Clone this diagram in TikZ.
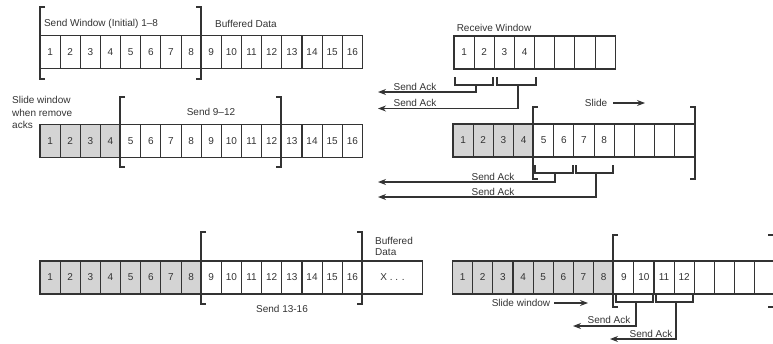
\documentclass[tikz,border=0pt]{standalone}
\usepackage{fontspec}
\setmainfont{Liberation Sans}
\usepackage{xcolor}
\usepackage{tikz}
\usetikzlibrary{arrows.meta}

\definecolor{inkgray}{HTML}{333333}
\definecolor{ackgray}{HTML}{D4D4D4}

\tikzset{
    cell/.style={draw=inkgray, line width=1.1pt, minimum width=20.15pt, minimum height=33pt,
                 inner sep=0pt, outer sep=0pt, text=inkgray, font=\fontsize{10}{12}\selectfont},
    acked/.style={cell, fill=ackgray},
    brak/.style={draw=inkgray, line width=1.1pt},
    ackline/.style={draw=inkgray, line width=1.1pt, -{Stealth[length=8pt,width=6pt]}},
    lbl/.style={inner sep=0pt, text=inkgray, font=\fontsize{10}{12.5}\selectfont},
}

\begin{document}
\begin{tikzpicture}[x=1pt,y=-1pt]
    \useasboundingbox (0,0) rectangle (773,343);
    \clip (0,0) rectangle (773,343);

    % initial send window
    \foreach \i in {1,...,16} {
        \node[cell] (a\i) at (40+20.15*\i-10.075, 52) {\i};
    }
    \draw[brak] (45,7) -- (40,7) -- (40,79) -- (45,79);
    \draw[brak] (196,7) -- (201,7) -- (201,79) -- (196,79);
    \node[lbl] (sendwin) at (101,24) {Send Window (Initial) 1--8};
    \node[lbl] (bufa) at (246,24) {Buffered Data};

    % receive window
    \foreach \i in {1,...,4} {
        \node[cell] (r\i) at (454+20.15*\i-10.075, 52.5) {\i};
    }
    \foreach \i in {5,...,8} {
        \node[cell] (r\i) at (454+20.15*\i-10.075, 52.5) {};
    }
    \node[lbl] (recvwin) at (494,28) {Receive Window};

    \draw[brak] (455,77) -- (455,85) -- (493,85) -- (493,77);
    \draw[brak] (497,77) -- (497,85) -- (536,85) -- (536,77);
    \coordinate (rs1) at (476,85);
    \coordinate (rt1) at (378,92);
    \coordinate (rs2) at (518,85);
    \coordinate (rt2) at (378,108.5);
    \draw[ackline] (rs1) |- (rt1);
    \draw[ackline] (rs2) |- (rt2);
    \node[lbl] (ackr1) at (415,87) {Send Ack};
    \node[lbl] (ackr2) at (415,103) {Send Ack};

    \node[lbl] (slide) at (596,103) {Slide};
    \coordinate (slidetip) at (645,103);
    \draw[ackline] ([xshift=6pt]slide.east) -- (slidetip);

    % window after acks 1-4
    \foreach \i in {1,...,4} {
        \node[acked] (b\i) at (40+20.15*\i-10.075, 141) {\i};
    }
    \foreach \i in {5,...,16} {
        \node[cell] (b\i) at (40+20.15*\i-10.075, 141) {\i};
    }
    \draw[brak] (125,97) -- (120,97) -- (120,167) -- (125,167);
    \draw[brak] (276,97) -- (281,97) -- (281,167) -- (276,167);
    \node[lbl] (send912) at (211,112) {Send 9--12};
    \node[lbl, align=left, anchor=north west] (slidenote) at (12,96.5) {Slide window\\when remove\\acks};

    % receiver after sliding
    \foreach \i in {1,...,4} {
        \node[acked] (s\i) at (453+20.15*\i-10.075, 140.5) {\i};
    }
    \foreach \i in {5,...,8} {
        \node[cell] (s\i) at (453+20.15*\i-10.075, 140.5) {\i};
    }
    \foreach \i in {9,...,12} {
        \node[cell] (s\i) at (453+20.15*\i-10.075, 140.5) {};
    }
    \draw[brak] (538,107) -- (533,107) -- (533,179) -- (538,179);
    \draw[brak] (690,107) -- (695,107) -- (695,179) -- (690,179);

    \draw[brak] (535,165) -- (535,173) -- (573,173) -- (573,165);
    \draw[brak] (576,165) -- (576,173) -- (613,173) -- (613,165);
    \coordinate (ss1) at (555,173);
    \coordinate (st1) at (378,182);
    \coordinate (ss2) at (596,173);
    \coordinate (st2) at (378,197);
    \draw[ackline] (ss1) |- (st1);
    \draw[ackline] (ss2) |- (st2);
    \node[lbl] (acks1) at (493,177) {Send Ack};
    \node[lbl] (acks2) at (493,192) {Send Ack};

    % window after acks 5-8
    \foreach \i in {1,...,8} {
        \node[acked] (c\i) at (40+20.15*\i-10.075, 277.5) {\i};
    }
    \foreach \i in {9,...,16} {
        \node[cell] (c\i) at (40+20.15*\i-10.075, 277.5) {\i};
    }
    \node[cell, minimum width=60.45pt] (cx) at (392.6,277.5) {X . . .};
    \draw[brak] (206,232) -- (201,232) -- (201,304) -- (206,304);
    \draw[brak] (357,232) -- (362,232) -- (362,304) -- (357,304);
    \node[lbl] (send1316) at (282,309) {Send 13-16};
    \node[lbl, align=left, anchor=north west, font=\fontsize{10}{11}\selectfont] (bufc) at (375,237) {Buffered\\Data};

    % receiver after second slide
    \foreach \i in {1,...,8} {
        \node[acked] (d\i) at (452.5+20.15*\i-10.075, 277.5) {\i};
    }
    \foreach \i in {9,...,12} {
        \node[cell] (d\i) at (452.5+20.15*\i-10.075, 277.5) {\i};
    }
    \foreach \i in {13,...,16} {
        \node[cell] (d\i) at (452.5+20.15*\i-10.075, 277.5) {};
    }
    \draw[brak] (618,235) -- (613,235) -- (613,307) -- (618,307);
    \draw[brak] (768,235) -- (774,235) -- (774,307) -- (768,307);

    \draw[brak] (616,295) -- (616,302) -- (653,302) -- (653,295);
    \draw[brak] (656,295) -- (656,302) -- (693,302) -- (693,295);
    \coordinate (ds1) at (636,302);
    \coordinate (dt1) at (573,326);
    \coordinate (ds2) at (676,302);
    \coordinate (dt2) at (610,339);
    \draw[ackline] (ds1) |- (dt1);
    \draw[ackline] (ds2) |- (dt2);
    \node[lbl] (ackd1) at (609,320) {Send Ack};
    \node[lbl] (ackd2) at (651,334) {Send Ack};

    \node[lbl] (slidewin) at (521,303) {Slide window};
    \coordinate (slidewintip) at (588,303);
    \draw[ackline] ([xshift=4pt]slidewin.east) -- (slidewintip);
\end{tikzpicture}
\end{document}
